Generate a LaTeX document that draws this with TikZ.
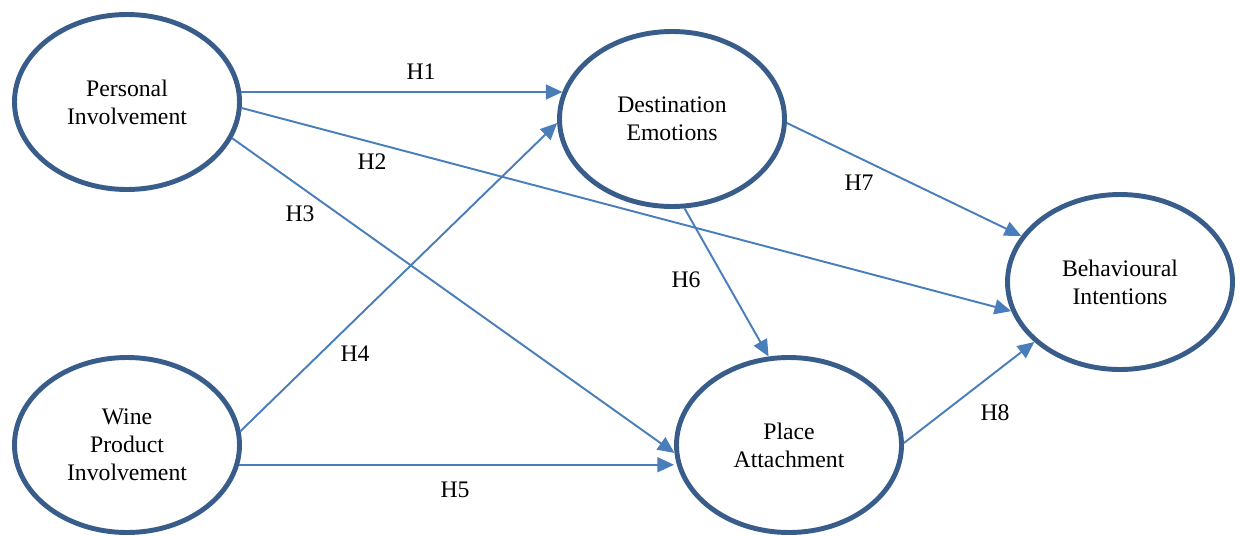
\documentclass[tikz,border=0pt]{standalone}
\usepackage{fontspec}
\setmainfont{Liberation Serif}
\usetikzlibrary{arrows.meta,shapes.geometric}
\definecolor{ringblue}{RGB}{56,93,138}
\definecolor{pathblue}{RGB}{74,126,187}
\tikzset{
  construct/.style={ellipse, draw=ringblue, line width=2.8pt, minimum width=4.5cm,
    minimum height=3.5cm, inner sep=0pt, align=center,
    font=\fontsize{13.5}{16}\selectfont},
  hyp/.style={pathblue, line width=1.1pt, -{Triangle[length=9.5pt,width=8.5pt]}},
  hlabel/.style={font=\fontsize{13.5}{16}\selectfont}
}

\begin{document}
\begin{tikzpicture}
  \useasboundingbox (0,0) rectangle (24.8,10.7);
  % constructs
  \node[construct] (pers) at (2.54,8.66) {Personal\\Involvement};
  \node[construct] (wine) at (2.54,1.8) {Wine\\Product\\Involvement};
  \node[construct] (emo) at (13.44,8.32) {Destination\\Emotions};
  \node[construct] (place) at (15.78,1.8) {Place\\Attachment};
  \node[construct] (behav) at (22.4,5.06) {Behavioural\\Intentions};
  % hypothesised paths
  \draw[hyp] (pers.5.6) -- (pers.5.6 -| emo.166);
  \draw[hyp] (pers.-3.5) -- (behav.195.7);
  \draw[hyp] (pers.-19.8) -- (place.184.4);
  \draw[hyp] (wine.7) -- (emo.182);
  \draw[hyp] (wine.-10.3) -- (wine.-10.3 -| place.west);
  \draw[hyp] (emo.278) -- (place.103.6);
  \draw[hyp] (emo.-2.5) -- (behav.155.6);
  \draw[hyp] (place.1) -- (behav.215.4);
  % labels
  \node[hlabel] (h1) at (8.42,9.26) {H1};
  \node[hlabel] (h2) at (7.44,7.46) {H2};
  \node[hlabel] (h3) at (6.0,6.42) {H3};
  \node[hlabel] (h4) at (7.1,3.62) {H4};
  \node[hlabel] (h5) at (9.1,0.9) {H5};
  \node[hlabel] (h6) at (13.72,5.1) {H6};
  \node[hlabel] (h7) at (17.18,7.04) {H7};
  \node[hlabel] (h8) at (19.9,2.44) {H8};
\end{tikzpicture}
\end{document}
